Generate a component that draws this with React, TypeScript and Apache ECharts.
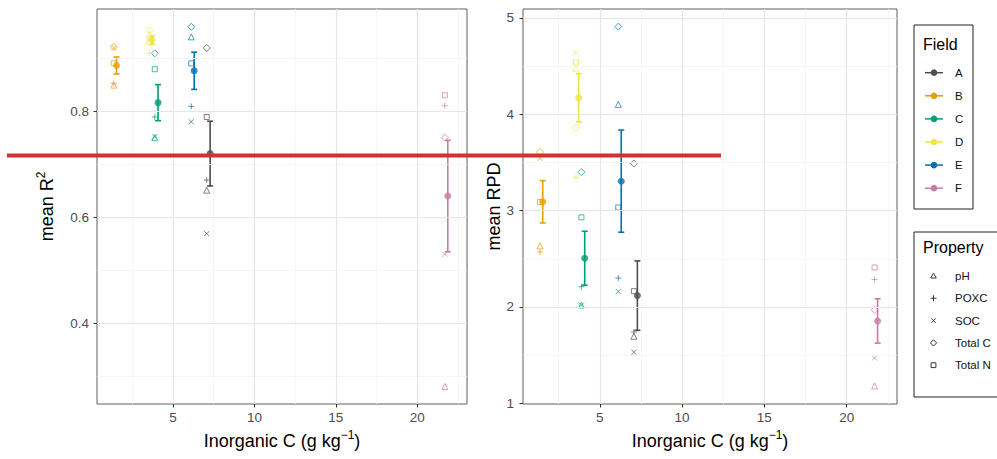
import React, { useEffect, useRef } from "react";
import * as echarts from "echarts";

// ---------- data ----------
const fields = ["A", "B", "C", "D", "E", "F"];
const fieldColors = ["#4d4d4d", "#E69F00", "#009E73", "#F0E442", "#0072B2", "#CC79A7"];
const properties = ["pH", "POXC", "SOC", "Total C", "Total N"];

// inorganic C per field (individual property points, and nudged mean position)
const icPoint = [7.07, 1.36, 3.88, 3.55, 6.12, 21.7];
const icMean = [7.28, 1.53, 4.08, 3.71, 6.3, 21.88];

// R² per field, order: pH, POXC, SOC, Total C, Total N
const r2A = [0.651, 0.67, 0.569, 0.919, 0.789];
const r2B = [0.849, 0.852, 0.919, 0.921, 0.89];
const r2C = [0.75, 0.789, 0.752, 0.909, 0.879];
const r2D = [0.945, 0.909, 0.935, 0.952, 0.93];
const r2E = [0.94, 0.809, 0.78, 0.959, 0.89];
const r2F = [0.281, 0.81, 0.53, 0.75, 0.83];
const r2Mean = [0.72, 0.886, 0.816, 0.934, 0.876, 0.64];
const r2Se = [0.061, 0.016, 0.034, 0.008, 0.035, 0.105];

// RPD per field, order: pH, POXC, SOC, Total C, Total N
const rpdA = [1.696, 1.74, 1.53, 3.49, 2.164];
const rpdB = [2.634, 2.572, 3.542, 3.608, 3.09];
const rpdC = [2.02, 2.21, 2.02, 3.4, 2.93];
const rpdD = [4.477, 3.345, 4.64, 3.86, 4.536];
const rpdE = [4.103, 2.3, 2.16, 4.91, 3.033];
const rpdF = [1.18, 2.285, 1.47, 1.97, 2.41];
const rpdMean = [2.118, 3.092, 2.506, 4.172, 3.306, 1.855];
const rpdSe = [0.36, 0.22, 0.28, 0.25, 0.53, 0.23];

const xTicks = [5, 10, 15, 20];
const xMinor = [2.5, 7.5, 12.5, 17.5, 22.5];
const r2Ticks = [0.4, 0.6, 0.8];
const r2Minor = [0.3, 0.5, 0.7, 0.9];
const rpdTicks = [2, 3, 4, 5];
const rpdTickLabels = [1, 2, 3, 4, 5];
const rpdMinor = [1.5, 2.5, 3.5, 4.5];

const r2Values = [r2A, r2B, r2C, r2D, r2E, r2F];
const rpdValues = [rpdA, rpdB, rpdC, rpdD, rpdE, rpdF];

// ---------- styles ----------
const FONT = "'Liberation Sans', Arial, sans-serif";
const propSymbols: Record<string, { symbol: string; size: number }> = {
  pH: { symbol: "triangle", size: 6 },
  POXC: { symbol: "path://M0,5L10,5M5,0L5,10", size: 6 },
  SOC: { symbol: "path://M1,1L9,9M9,1L1,9", size: 5 },
  "Total C": { symbol: "diamond", size: 7 },
  "Total N": { symbol: "rect", size: 5 },
};

function gridLines(xs: number[], ys: number[], xsMinor: number[], ysMinor: number[]) {
  const major = { color: "#e6e6e6", width: 1.2, type: "solid" };
  const minor = { color: "#f3f3f3", width: 0.8, type: "solid" };
  return [
    ...xsMinor.map((v) => ({ xAxis: v, lineStyle: minor })),
    ...ysMinor.map((v) => ({ yAxis: v, lineStyle: minor })),
    ...xs.map((v) => ({ xAxis: v, lineStyle: major })),
    ...ys.map((v) => ({ yAxis: v, lineStyle: major })),
  ];
}

function panelSeries(
  idx: number,
  values: number[][],
  means: number[],
  ses: number[],
  majorY: number[],
  minorY: number[]
) {
  const series: any[] = [];
  series.push({
    type: "scatter",
    xAxisIndex: idx,
    yAxisIndex: idx,
    data: [],
    silent: true,
    z: 1,
    markLine: {
      silent: true,
      symbol: ["none", "none"],
      label: { show: false },
      animation: false,
      data: gridLines(xTicks, majorY, xMinor, minorY),
    },
  });
  fields.forEach((f, fi) => {
    series.push({
      type: "scatter",
      name: "pts" + f + idx,
      xAxisIndex: idx,
      yAxisIndex: idx,
      z: 3,
      data: properties.map((p, pi) => ({
        value: [icPoint[fi], values[fi][pi]],
        symbol: propSymbols[p].symbol,
        symbolSize: propSymbols[p].size,
        itemStyle: {
          color: "rgba(0,0,0,0)",
          borderColor: fieldColors[fi],
          borderWidth: 1,
          opacity: 0.7,
        },
      })),
    });
  });
  series.push({
    type: "custom",
    xAxisIndex: idx,
    yAxisIndex: idx,
    z: 4,
    data: fields.map((f, i) => [icMean[i], means[i] - ses[i], means[i] + ses[i], i]),
    encode: { x: 0, y: [1, 2] },
    renderItem: (params: any, api: any) => {
      const x = api.value(0);
      const lo = api.value(1);
      const hi = api.value(2);
      const c = fieldColors[api.value(3)];
      const p1 = api.coord([x, lo]);
      const p2 = api.coord([x, hi]);
      const w = 3;
      const st = { stroke: c, lineWidth: 1.6 };
      return {
        type: "group",
        children: [
          { type: "line", shape: { x1: p1[0], y1: p1[1], x2: p2[0], y2: p2[1] }, style: st },
          { type: "line", shape: { x1: p1[0] - w, y1: p1[1], x2: p1[0] + w, y2: p1[1] }, style: st },
          { type: "line", shape: { x1: p2[0] - w, y1: p2[1], x2: p2[0] + w, y2: p2[1] }, style: st },
        ],
      };
    },
  });
  series.push({
    type: "scatter",
    xAxisIndex: idx,
    yAxisIndex: idx,
    z: 5,
    symbol: "circle",
    symbolSize: 7,
    data: fields.map((f, i) => ({
      value: [icMean[i], means[i]],
      itemStyle: { color: fieldColors[i] },
    })),
  });
  return series;
}

const titleRich = {
  t: { fontSize: 18, color: "#000", fontFamily: FONT, verticalAlign: "bottom" },
  s: { fontSize: 12, color: "#000", fontFamily: FONT, verticalAlign: "bottom", padding: [0, 0, 9, 0] },
};

function xAxis(gridIndex: number) {
  return {
    type: "value",
    gridIndex,
    min: 0.33,
    max: 23.06,
    name: "{t|Inorganic C (g kg}{s|\u22121}{t|)}",
    nameLocation: "middle",
    nameGap: 25,
    nameTextStyle: { rich: titleRich },
    axisLine: { show: false },
    axisTick: { show: true, length: 3.5, lineStyle: { color: "#333", width: 1 }, customValues: xTicks },
    axisLabel: { color: "#4d4d4d", fontSize: 13.5, fontFamily: FONT, margin: 6, customValues: xTicks },
    splitLine: { show: false },
    minorSplitLine: { show: false },
  };
}

const LEG_FS = 11.5;

function buildLegend() {
  const els: any[] = [];
  // Field legend
  els.push({
    type: "rect",
    shape: { x: 914, y: 25, width: 59, height: 184 },
    style: { fill: "#fff", stroke: "#222", lineWidth: 1 },
    z: 10,
  });
  els.push({
    type: "text",
    x: 923,
    y: 44,
    style: { text: "Field", fontSize: 16, fontFamily: FONT, fill: "#000", verticalAlign: "middle" },
    z: 11,
  });
  fields.forEach((f, i) => {
    const y = 72.7 + i * 23.1;
    els.push({
      type: "line",
      shape: { x1: 925, y1: y, x2: 943, y2: y },
      style: { stroke: fieldColors[i], lineWidth: 1.5 },
      z: 11,
    });
    els.push({
      type: "circle",
      shape: { cx: 934, cy: y, r: 3.3 },
      style: { fill: fieldColors[i] },
      z: 11,
    });
    els.push({
      type: "text",
      x: 955,
      y: y,
      style: { text: f, fontSize: LEG_FS, fontFamily: FONT, fill: "#111", verticalAlign: "middle" },
      z: 11,
    });
  });
  // Property legend
  els.push({
    type: "rect",
    shape: { x: 914, y: 232, width: 95, height: 165 },
    style: { fill: "#fff", stroke: "#222", lineWidth: 1 },
    z: 10,
  });
  els.push({
    type: "text",
    x: 923,
    y: 247,
    style: { text: "Property", fontSize: 16, fontFamily: FONT, fill: "#000", verticalAlign: "middle" },
    z: 11,
  });
  const sx = 933.5;
  const stroke = { stroke: "#333", lineWidth: 1, fill: "none" };
  properties.forEach((p, i) => {
    const y = 276 + i * 22.3;
    if (p === "pH") {
      els.push({ type: "polygon", shape: { points: [[sx, y - 2.8], [sx + 2.8, y + 2], [sx - 2.8, y + 2]] }, style: stroke, z: 11 });
    } else if (p === "POXC") {
      els.push({ type: "line", shape: { x1: sx - 3, y1: y, x2: sx + 3, y2: y }, style: stroke, z: 11 });
      els.push({ type: "line", shape: { x1: sx, y1: y - 3, x2: sx, y2: y + 3 }, style: stroke, z: 11 });
    } else if (p === "SOC") {
      els.push({ type: "line", shape: { x1: sx - 2.2, y1: y - 2.2, x2: sx + 2.2, y2: y + 2.2 }, style: stroke, z: 11 });
      els.push({ type: "line", shape: { x1: sx - 2.2, y1: y + 2.2, x2: sx + 2.2, y2: y - 2.2 }, style: stroke, z: 11 });
    } else if (p === "Total C") {
      els.push({ type: "polygon", shape: { points: [[sx, y - 3.1], [sx + 3.1, y], [sx, y + 3.1], [sx - 3.1, y]] }, style: stroke, z: 11 });
    } else {
      els.push({ type: "rect", shape: { x: sx - 2.4, y: y - 2.4, width: 4.8, height: 4.8 }, style: stroke, z: 11 });
    }
    els.push({
      type: "text",
      x: 955,
      y: y,
      style: { text: p, fontSize: LEG_FS, fontFamily: FONT, fill: "#111", verticalAlign: "middle" },
      z: 11,
    });
  });
  // red annotation line
  els.push({
    type: "line",
    shape: { x1: 7, y1: 155.5, x2: 721, y2: 155.5 },
    style: { stroke: "#d3302f", lineWidth: 4 },
    z: 100,
  });
  return els;
}

export default function App() {
  const ref = useRef<HTMLDivElement>(null);
  useEffect(() => {
    document.body.style.margin = "0";
    if (!ref.current) return;
    const chart = echarts.init(ref.current, undefined, { renderer: "svg" });
    const option: any = {
      animation: false,
      backgroundColor: "#fff",
      textStyle: { fontFamily: FONT },
      grid: [
        { left: 97, top: 9, width: 370, height: 395, show: true, borderColor: "#5e5e5e", borderWidth: 1, backgroundColor: "#fff" },
        { left: 523, top: 9, width: 374, height: 395, show: true, borderColor: "#5e5e5e", borderWidth: 1, backgroundColor: "#fff" },
      ],
      xAxis: [xAxis(0), xAxis(1)],
      yAxis: [
        {
          type: "value",
          gridIndex: 0,
          min: 0.248,
          max: 0.9925,
          name: "{t|mean R}{s|2}",
          nameLocation: "middle",
          nameRotate: 90,
          nameGap: 41,
          nameTextStyle: { rich: titleRich },
          axisLine: { show: false },
          axisTick: { show: true, length: 3.5, lineStyle: { color: "#333" }, customValues: r2Ticks },
          axisLabel: { color: "#4d4d4d", fontSize: 13.5, fontFamily: FONT, margin: 8, customValues: r2Ticks, formatter: (v: number) => v.toFixed(1) },
          splitLine: { show: false },
        },
        {
          type: "value",
          gridIndex: 1,
          min: 0.993,
          max: 5.093,
          name: "{t|mean RPD}",
          nameLocation: "middle",
          nameRotate: 90,
          nameGap: 19,
          nameTextStyle: { rich: titleRich },
          axisLine: { show: false },
          axisTick: { show: true, length: 3.5, lineStyle: { color: "#333" }, customValues: rpdTickLabels },
          axisLabel: { color: "#4d4d4d", fontSize: 13.5, fontFamily: FONT, margin: 9, customValues: rpdTickLabels },
          splitLine: { show: false },
        },
      ],
      series: [
        ...panelSeries(0, r2Values, r2Mean, r2Se, r2Ticks, r2Minor),
        ...panelSeries(1, rpdValues, rpdMean, rpdSe, rpdTicks, rpdMinor),
      ],
      graphic: buildLegend(),
    };
    chart.setOption(option);
    return () => chart.dispose();
  }, []);
  return <div ref={ref} style={{ width: 997, height: 459 }} />;
}
